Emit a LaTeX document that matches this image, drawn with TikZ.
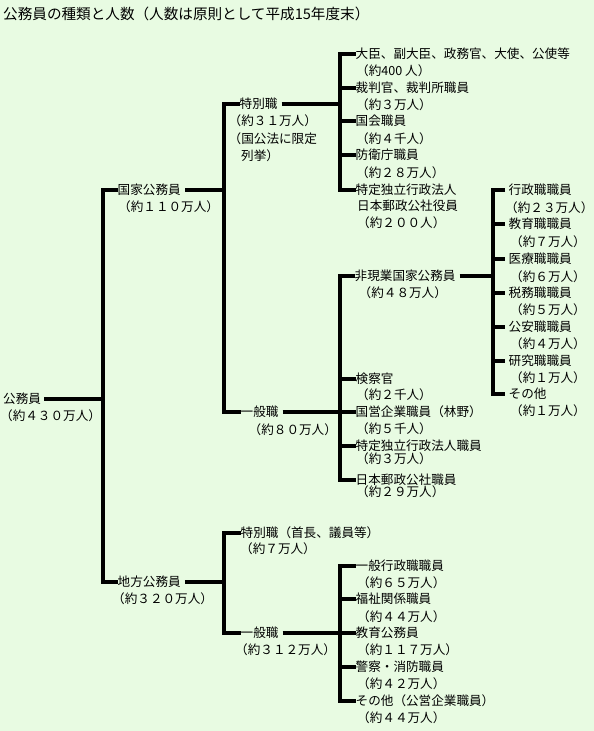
\documentclass[tikz,border=0pt]{standalone}
\usepackage{fontspec}
\setmainfont{Noto Sans CJK JP}
\definecolor{bg}{RGB}{232,251,226}
\begin{document}
\begin{tikzpicture}[x=1pt,y=-1pt,
  lbl/.style={anchor=west,inner sep=0pt,text height=9.6pt,text depth=0pt,font=\fontsize{12.6}{15}\selectfont},
  conn/.style={line width=4pt,line join=miter}]
\fill[bg] (0,0) rectangle (594,731);
\useasboundingbox (0,0) rectangle (594,731);
% title
\node[lbl,font=\fontsize{14.6}{16}\selectfont,text height=11.1pt] (title) at (3,14) {公務員の種類と人数（人数は原則として平成15年度末）};
% level 0
\node[lbl] (koumuin) at (3,399) {公務員};
\node[lbl] (koumuin-n) at (0,416) {（約４３０万人）};
% level 1
\node[lbl] (kokka) at (117.5,190) {国家公務員};
\node[lbl] (kokka-n) at (118,207) {（約１１０万人）};
\node[lbl] (chihou) at (117.5,582) {地方公務員};
\node[lbl] (chihou-n) at (112,599) {（約３２０万人）};
% national level 2
\node[lbl] (ntoku) at (239.5,104) {特別職};
\node[lbl] (ntoku-n1) at (228.5,121) {（約３１万人）};
\node[lbl] (ntoku-n2) at (228.5,139) {（国公法に限定};
\node[lbl] (ntoku-n3) at (241,156) {列挙）};
\node[lbl] (nippan) at (240.5,412) {一般職};
\node[lbl] (nippan-n) at (248.5,430) {（約８０万人）};
% national special leaves
\node[lbl] (s1) at (355.5,54) {大臣、副大臣、政務官、大使、公使等};
\node[lbl] (s1-n) at (356,71) {（約400 人）};
\node[lbl] (s2) at (355.5,88) {裁判官、裁判所職員};
\node[lbl] (s2-n) at (356,105) {（約３万人）};
\node[lbl] (s3) at (355.5,121) {国会職員};
\node[lbl] (s3-n) at (356,139) {（約４千人）};
\node[lbl] (s4) at (355.5,155) {防衛庁職員};
\node[lbl] (s4-n) at (356,173) {（約２８万人）};
\node[lbl] (s5) at (355.5,190) {特定独立行政法人};
\node[lbl] (s5-n1) at (357,206) {日本郵政公社役員};
\node[lbl] (s5-n2) at (357,223) {（約２００人）};
% national general leaves
\node[lbl] (g1) at (354.5,276) {非現業国家公務員};
\node[lbl] (g1-n) at (358.5,293) {（約４８万人）};
\node[lbl] (g2) at (355.5,379) {検察官};
\node[lbl] (g2-n) at (356,395) {（約２千人）};
\node[lbl] (g3) at (355.5,412) {国営企業職員（林野）};
\node[lbl] (g3-n) at (356,429) {（約５千人）};
\node[lbl] (g4) at (355.5,446) {特定独立行政法人職員};
\node[lbl] (g4-n) at (356,459) {（約３万人）};
\node[lbl] (g5) at (355.5,480) {日本郵政公社職員};
\node[lbl] (g5-n) at (356,492) {（約２９万人）};
% non-operational leaves
\node[lbl] (h1) at (508.5,190) {行政職職員};
\node[lbl] (h1-n) at (505,208) {（約２３万人）};
\node[lbl] (h2) at (508.5,224) {教育職職員};
\node[lbl] (h2-n) at (510,242) {（約７万人）};
\node[lbl] (h3) at (508.5,259) {医療職職員};
\node[lbl] (h3-n) at (510,277) {（約６万人）};
\node[lbl] (h4) at (508.5,293) {税務職職員};
\node[lbl] (h4-n) at (510,310) {（約５万人）};
\node[lbl] (h5) at (508.5,327) {公安職職員};
\node[lbl] (h5-n) at (510,344) {（約４万人）};
\node[lbl] (h6) at (508.5,361) {研究職職員};
\node[lbl] (h6-n) at (510,378) {（約１万人）};
\node[lbl] (h7) at (508.5,394) {その他};
\node[lbl] (h7-n) at (510,411) {（約１万人）};
% local
\node[lbl] (ltoku) at (240.5,533) {特別職（首長、議員等）};
\node[lbl] (ltoku-n) at (240,549) {（約７万人）};
\node[lbl] (lippan) at (240.5,633) {一般職};
\node[lbl] (lippan-n) at (235,650) {（約３１２万人）};
\node[lbl] (l1) at (355.5,566) {一般行政職職員};
\node[lbl] (l1-n) at (357,583) {（約６５万人）};
\node[lbl] (l2) at (355.5,599) {福祉関係職員};
\node[lbl] (l2-n) at (357,617) {（約４４万人）};
\node[lbl] (l3) at (355.5,633) {教育公務員};
\node[lbl] (l3-n) at (357,650) {（約１１７万人）};
\node[lbl] (l4) at (355.5,667) {警察・消防職員};
\node[lbl] (l4-n) at (357,684) {（約４２万人）};
\node[lbl] (l5) at (355.5,701) {その他（公営企業職員）};
\node[lbl] (l5-n) at (357,718) {（約４４万人）};
% vertical bar positions
\coordinate (v1) at (103,0);
\coordinate (v2) at (224,0);
\coordinate (v3) at (340,0);
\coordinate (v4) at (493,0);
% connectors
\draw[conn,shorten <=3pt] (koumuin.east) -- (v1 |- koumuin.east);
\draw[conn] (kokka.west) -| (v1 |- chihou.west) -- (chihou.west);
\draw[conn,shorten <=4.5pt] (kokka.east) -- (v2 |- kokka.east);
\draw[conn] (ntoku.west) -| (v2 |- nippan.west) -- (nippan.west);
\draw[conn,shorten <=4pt] (ntoku.east) -- (v3 |- ntoku.east);
\draw[conn] (s1.west) -| (v3 |- s5.west) -- (s5.west);
\foreach \n in {s2,s3,s4} \draw[conn] (v3 |- \n.west) -- (\n.west);
\draw[conn,shorten <=4pt] (nippan.east) -- (v3 |- nippan.east);
\draw[conn] (g1.west) -| (v3 |- g5.west) -- (g5.west);
\foreach \n in {g2,g3,g4} \draw[conn] (v3 |- \n.west) -- (\n.west);
\draw[conn,shorten <=4pt] (g1.east) -- (v4 |- g1.east);
\draw[conn,shorten <=3.5pt,shorten >=3.5pt] (h1.west) -| (v4 |- h7.west) -- (h7.west);
\foreach \n in {h2,h3,h4,h5,h6} \draw[conn,shorten >=3.5pt] (v4 |- \n.west) -- (\n.west);
\draw[conn,shorten <=4pt] (chihou.east) -- (v2 |- chihou.east);
\draw[conn] (ltoku.west) -| (v2 |- lippan.west) -- (lippan.west);
\draw[conn,shorten <=4pt] (lippan.east) -- (v3 |- lippan.east);
\draw[conn] (l1.west) -| (v3 |- l5.west) -- (l5.west);
\foreach \n in {l2,l3,l4} \draw[conn] (v3 |- \n.west) -- (\n.west);
\end{tikzpicture}
\end{document}
